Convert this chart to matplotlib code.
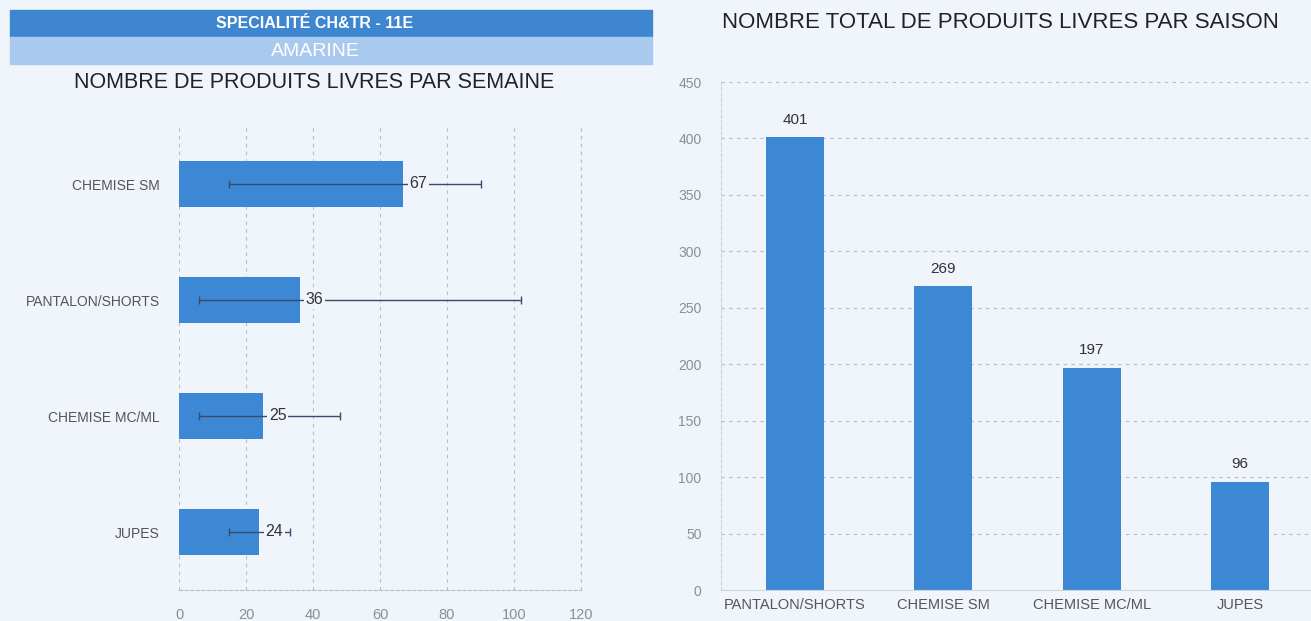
import numpy as np
import matplotlib.pyplot as plt
from matplotlib.patches import Rectangle

# weekly deliveries (left chart)
week_cats = ['CHEMISE SM', 'PANTALON/SHORTS', 'CHEMISE MC/ML', 'JUPES']
week_vals = [67, 36, 25, 24]
week_low = [15, 6, 6, 15]     # lower end of error line
week_high = [90, 102, 48, 33]  # upper end of error line
week_ticks = [0, 20, 40, 60, 80, 100, 120]

# season totals (right chart)
season_cats = ['PANTALON/SHORTS', 'CHEMISE SM', 'CHEMISE MC/ML', 'JUPES']
season_vals = [401, 269, 197, 96]
season_ticks = [0, 50, 100, 150, 200, 250, 300, 350, 400, 450]

bg = '#f0f5fb'
bar_col = '#3d88d4'
grid_col = '#b8bcc4'
tick_col = '#8a8f98'
W, H = 1311, 621

plt.rcParams['font.family'] = ['Liberation Sans', 'DejaVu Sans']
fig = plt.figure(figsize=(W / 100, H / 100), dpi=100, facecolor=bg)

# header bands
fig.patches.append(Rectangle((10 / W, 1 - 37 / H), 642 / W, 27 / H,
                             transform=fig.transFigure, color='#3f86d0'))
fig.patches.append(Rectangle((10 / W, 1 - 64 / H), 642 / W, 27 / H,
                             transform=fig.transFigure, color='#a9c9ee'))
fig.text(315 / W, 1 - 23 / H, 'SPECIALITÉ CH&TR - 11E', color='white',
         fontsize=11.5, fontweight='bold', ha='center', va='center')
fig.text(315 / W, 1 - 51 / H, 'AMARINE', color='white', fontsize=14,
         ha='center', va='center')
fig.text(314 / W, 1 - 82 / H, 'NOMBRE DE PRODUITS LIVRES PAR SEMAINE',
         fontsize=15.5, ha='center', va='center', color='#222222')
fig.text(1000 / W, 1 - 22 / H, 'NOMBRE TOTAL DE PRODUITS LIVRES PAR SAISON',
         fontsize=16, ha='center', va='center', color='#222222')

# ---- left: horizontal bars
ax1 = fig.add_axes([179 / W, 1 - 590 / H, 402 / W, 464 / H])
ax1.set_facecolor(bg)
y = np.arange(len(week_cats))
ax1.barh(y, week_vals, height=0.39, color=bar_col, zorder=2)
lo = np.array(week_vals) - np.array(week_low)
hi = np.array(week_high) - np.array(week_vals)
ax1.errorbar(week_vals, y, xerr=[lo, hi], fmt='none', ecolor='#3b4a68',
             elinewidth=1, capsize=3, capthick=1, zorder=3)
for yi, v in zip(y, week_vals):
    ax1.text(v + 1.8, yi, str(v), va='center', ha='left', fontsize=11.5,
             color='#333333', zorder=4,
             bbox=dict(facecolor=bg, edgecolor='none', pad=1))
ax1.set_ylim(3.5, -0.5)
ax1.set_xlim(0, 120)
ax1.set_xticks(week_ticks)
ax1.set_yticks(y)
ax1.set_yticklabels(week_cats)
ax1.xaxis.grid(True, linestyle=(0, (3, 4)), color=grid_col, linewidth=0.8, zorder=0)
ax1.axvline(120, linestyle=(0, (3, 4)), color=grid_col, linewidth=0.8, zorder=0,
            clip_on=False)
for s in ['top', 'right', 'left']:
    ax1.spines[s].set_visible(False)
ax1.spines['bottom'].set_color(grid_col)
ax1.spines['bottom'].set_linestyle((0, (3, 2)))
ax1.tick_params(axis='both', length=0, colors=tick_col, labelsize=10.5)
ax1.tick_params(axis='x', pad=13)
ax1.tick_params(axis='y', pad=14, labelcolor='#555555', labelsize=10)

# ---- right: vertical bars
ax2 = fig.add_axes([721 / W, 1 - 590 / H, 590 / W, 508 / H])
ax2.set_facecolor(bg)
x = np.arange(len(season_cats))
ax2.bar(x, season_vals, width=0.39, color=bar_col, zorder=2)
for xi, v in zip(x, season_vals):
    ax2.text(xi, v + 9, str(v), ha='center', va='bottom', fontsize=11,
             color='#333333')
ax2.set_xlim(-0.5, 3.48)
ax2.set_ylim(0, 450)
ax2.set_yticks(season_ticks)
ax2.set_xticks(x)
ax2.set_xticklabels(season_cats)
ax2.yaxis.grid(True, linestyle=(0, (3, 4)), color=grid_col, linewidth=0.8, zorder=0)
for s in ['top', 'right']:
    ax2.spines[s].set_visible(False)
for s in ['left', 'bottom']:
    ax2.spines[s].set_color('#cfd3da')
ax2.spines['left'].set_linestyle((0, (3, 2)))
ax2.tick_params(axis='both', length=0, colors=tick_col, labelsize=10)
ax2.tick_params(axis='y', pad=14)
ax2.tick_params(axis='x', pad=6, labelcolor='#555555', labelsize=10.5)

fig.savefig('out.png', dpi=100, facecolor=bg)
